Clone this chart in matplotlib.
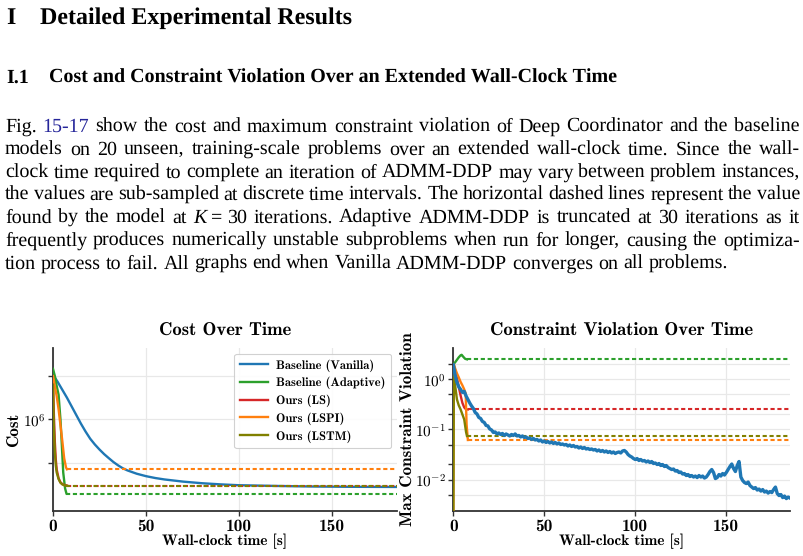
import numpy as np
import matplotlib
matplotlib.use("Agg")
import matplotlib.pyplot as plt
from matplotlib.ticker import LogLocator, NullFormatter, FuncFormatter

# ------------------------------------------------------------------ data
x_ticks = [0, 50, 100, 150]
x_max = 185
names = ["Baseline (Vanilla)", "Baseline (Adaptive)", "Ours (LS)", "Ours (LSPI)", "Ours (LSTM)"]
colors = ["#1f77b4", "#2ca02c", "#d62728", "#ff7f0e", "#808000"]

# Cost over time (log10 of cost)
cost_vanilla_t = [0, 2.5, 5, 7.5, 10, 12.5, 15, 17.5, 20, 22.5, 25, 27.5, 30, 32.5, 35,
                  37.5, 40, 45, 50, 55, 60, 70, 80, 90, 100, 120, 140, 160, 185]
cost_vanilla_log = [6.31, 6.26, 6.205, 6.15, 6.09, 6.03, 5.97, 5.915, 5.865, 5.825, 5.79,
                    5.758, 5.73, 5.703, 5.68, 5.66, 5.645, 5.622, 5.605, 5.592, 5.582,
                    5.567, 5.556, 5.548, 5.542, 5.537, 5.533, 5.531, 5.530]
cost_adaptive_t = [0, 1, 2, 3, 4, 4.6, 5.5, 6.5, 7.2]
cost_adaptive_log = [6.35, 6.30, 6.23, 6.17, 6.00, 5.86, 5.63, 5.52, 5.486]
cost_ls_t = [0, 0.5, 1, 1.5, 2, 3, 4, 5, 6, 7.5]
cost_ls_log = [6.27, 6.02, 5.84, 5.72, 5.65, 5.59, 5.562, 5.55, 5.544, 5.540]
cost_lspi_t = [0, 1, 2, 3, 4, 5, 6, 7, 7.5]
cost_lspi_log = [6.30, 6.23, 6.16, 6.07, 5.96, 5.85, 5.73, 5.665, 5.653]
cost_lstm_t = [0, 0.5, 1, 1.5, 2, 3, 4, 5, 6, 7]
cost_lstm_log = [6.24, 5.93, 5.77, 5.68, 5.63, 5.585, 5.56, 5.548, 5.542, 5.540]
cost_k30_adaptive_log = 5.483
cost_k30_ls_log = 5.540
cost_k30_lspi_log = 5.653
cost_k30_lstm_log = 5.540

# Max constraint violation over time (log10)
viol_vanilla_t = np.arange(0, 186)
viol_vanilla_log = [
    0.29, 0.08, -0.06, -0.15, -0.20, -0.26, -0.24, -0.33, -0.40, -0.47,
    -0.53, -0.58, -0.66, -0.69, -0.76, -0.78, -0.84, -0.86, -0.92, -0.93,
    -0.99, -1.01, -1.06, -1.05, -1.09, -1.07, -1.10, -1.08, -1.12, -1.09,
    -1.11, -1.13, -1.10, -1.12, -1.09, -1.13, -1.12, -1.15, -1.13, -1.16,
    -1.15, -1.18, -1.17, -1.20, -1.18, -1.21, -1.20, -1.23, -1.21, -1.25,
    -1.23, -1.26, -1.24, -1.27, -1.25, -1.28, -1.26, -1.29, -1.27, -1.30,
    -1.29, -1.31, -1.30, -1.33, -1.31, -1.34, -1.32, -1.35, -1.34, -1.37,
    -1.35, -1.38, -1.36, -1.39, -1.38, -1.40, -1.39, -1.41, -1.40, -1.43,
    -1.41, -1.44, -1.42, -1.45, -1.43, -1.46, -1.44, -1.47, -1.45, -1.48,
    -1.46, -1.45, -1.47, -1.43, -1.42, -1.45, -1.50, -1.53, -1.55, -1.58,
    -1.60, -1.58, -1.62, -1.60, -1.63, -1.62, -1.65, -1.63, -1.66, -1.64,
    -1.68, -1.67, -1.70, -1.68, -1.72, -1.70, -1.74, -1.72, -1.76, -1.78,
    -1.80, -1.79, -1.83, -1.82, -1.86, -1.85, -1.89, -1.88, -1.92, -1.90,
    -1.94, -1.92, -1.95, -1.93, -1.96, -1.92, -1.95, -1.93, -1.97, -1.95,
    -1.90, -1.84, -1.80, -1.86, -1.98, -1.96, -1.90, -1.93, -1.88, -1.91,
    -1.86, -1.80, -1.74, -1.69, -1.78, -1.84, -1.72, -1.64, -1.95, -2.02,
    -2.06, -2.08, -2.05, -2.12, -2.15, -2.18, -2.16, -2.21, -2.19, -2.23,
    -2.20, -2.25, -2.23, -2.27, -2.24, -2.26, -2.20, -2.15, -2.28, -2.32,
    -2.30, -2.36, -2.33, -2.38, -2.35, -2.37]
viol_adaptive_t = [0, 1, 2, 3, 4, 4.6, 5.5, 6.5, 7.5]
viol_adaptive_log = [0.30, 0.34, 0.39, 0.44, 0.48, 0.49, 0.45, 0.41, 0.40]
viol_ls_t = [0, 1, 2, 3, 4, 5, 6, 7, 8]
viol_ls_log = [0.30, 0.18, 0.02, -0.15, -0.32, -0.47, -0.56, -0.60, -0.60]
viol_lspi_t = [0, 0.3, 1, 2, 3, 4, 5, 6, 6.8, 7.3, 8]
viol_lspi_log = [-3.0, 0.30, 0.22, 0.12, 0.04, -0.05, -0.12, -0.20, -0.28, -0.90, -1.21]
viol_lstm_t = [0, 0.3, 1, 2, 3, 4, 5, 6, 7, 7.5]
viol_lstm_log = [-3.0, 0.30, -0.12, -0.40, -0.52, -0.60, -0.70, -0.80, -1.05, -1.13]
viol_k30_adaptive_log = 0.40
viol_k30_ls_log = -0.60
viol_k30_lspi_log = -1.21
viol_k30_lstm_log = -1.13

# Page text
heading_num = "I"
heading = "Detailed Experimental Results"
sub_num = "I.1"
sub_heading = "Cost and Constraint Violation Over an Extended Wall-Clock Time"
para_lines = [
    "Fig. 15-17 show the cost and maximum constraint violation of Deep Coordinator and the baseline",
    "models on 20 unseen, training-scale problems over an extended wall-clock time. Since the wall-",
    "clock time required to complete an iteration of ADMM-DDP may vary between problem instances,",
    "the values are sub-sampled at discrete time intervals. The horizontal dashed lines represent the value",
    "found by the model at K=30 iterations. Adaptive ADMM-DDP is truncated at 30 iterations as it",
    "frequently produces numerically unstable subproblems when run for longer, causing the optimiza-",
    "tion process to fail. All graphs end when Vanilla ADMM-DDP converges on all problems.",
]
titles = ["Cost Over Time", "Constraint Violation Over Time"]
ylabels = ["Cost", "Max Constraint Violation"]
xlabel = "Wall-clock time [s]"

# ------------------------------------------------------------------ setup
plt.rcParams["font.family"] = "cmb10"
plt.rcParams["mathtext.fontset"] = "cm"
plt.rcParams["mathtext.default"] = "rm"
plt.rcParams["text.hinting"] = "no_hinting"
plt.rcParams["text.hinting_factor"] = 1

W, H = 804, 556
fig = plt.figure(figsize=(W / 100, H / 100), dpi=100)
renderer = fig.canvas.get_renderer()
SERIF = "Liberation Serif"
LINK = "#26269a"


def fx(x):
    return x / W


def fy(y):
    return 1 - y / H


def measure(s, **kw):
    t = fig.text(0, 0, s, **kw)
    w = t.get_window_extent(renderer).width
    t.remove()
    return w


def fit(s, target, **kw):
    return 10 * target / measure(s, fontsize=10, **kw)


# headings
fs_h = fit(heading, 309, fontfamily=SERIF, fontweight="bold")
fig.text(fx(6), fy(23.5), heading_num, fontfamily=SERIF, fontweight="bold", fontsize=fs_h, va="baseline")
fig.text(fx(40), fy(23.5), heading, fontfamily=SERIF, fontweight="bold", fontsize=fs_h, va="baseline")
fs_s = fit(sub_heading, 564, fontfamily=SERIF, fontweight="bold")
fig.text(fx(6), fy(83), sub_num, fontfamily=SERIF, fontweight="bold", fontsize=fs_s, va="baseline")
fig.text(fx(49), fy(83), sub_heading, fontfamily=SERIF, fontweight="bold", fontsize=fs_s, va="baseline")

# paragraph (justified)
fs_p = fit(para_lines[-1].replace("K=30", "K = 30"), 728, fontfamily=SERIF)
base = dict(fontfamily=SERIF, fontsize=fs_p)
space_w = measure("a a", **base) - measure("aa", **base)


def pieces(word):
    if word == "15-17":
        return [(word, dict(color=LINK), 0)]
    if word == "K=30":
        g = space_w * 0.9
        return [("K", dict(style="italic"), g), ("=", {}, g), ("30", {}, 0)]
    return [(word, {}, 0)]


x_left, x_right = 5, 800
for i, line in enumerate(para_lines):
    y = 131.5 + 22.9 * i
    words = line.split(" ")
    word_pieces = [pieces(w) for w in words]
    widths = [sum(measure(s, **base, **kw) + g for s, kw, g in wp) for wp in word_pieces]
    if i == len(para_lines) - 1:
        gap = space_w
    else:
        gap = (x_right - x_left - sum(widths)) / (len(words) - 1)
    x = x_left
    for wp, wd in zip(word_pieces, widths):
        xx = x
        for s, kw, g in wp:
            fig.text(fx(xx), fy(y), s, va="baseline", ha="left", **base, **kw)
            xx += measure(s, **base, **kw) + g
        x += wd + gap

# ------------------------------------------------------------------ charts
ax1 = fig.add_axes([fx(53), fy(511), (397 - 53) / W, (511 - 348) / H])
ax2 = fig.add_axes([fx(453.3), fy(511), (790 - 453.3) / W, (511 - 348) / H])


def log_label(v, pos):
    e = int(round(np.log10(v)))
    if e < 0:
        return r"$\mathbf{10}^{-\mathbf{%d}}$" % (-e)
    return r"$\mathbf{10}^{\mathbf{%d}}$" % e


SPINE = "#333333"
for ax, title, ylab in ((ax1, titles[0], ylabels[0]), (ax2, titles[1], ylabels[1])):
    ax.set_yscale("log")
    ax.set_xlim(0, x_max)
    ax.set_xticks(x_ticks)
    ax.yaxis.set_major_locator(LogLocator(base=10))
    ax.yaxis.set_major_formatter(FuncFormatter(log_label))
    ax.yaxis.set_minor_locator(LogLocator(base=10, subs=(2, 5)))
    ax.yaxis.set_minor_formatter(NullFormatter())
    ax.grid(True, which="both", color="#e8e8e8", lw=0.9)
    ax.set_axisbelow(True)
    for s in ("top", "right"):
        ax.spines[s].set_visible(False)
    for s in ("left", "bottom"):
        ax.spines[s].set_color(SPINE)
        ax.spines[s].set_linewidth(1.3)
    ax.tick_params(which="both", direction="out", color=SPINE, length=3.5, width=1.0)
    ax.tick_params(axis="x", labelsize=12.5, pad=2)
    ax.tick_params(axis="y", labelsize=11, pad=2)
    ax.set_title(title, fontsize=13.4, y=(511 - 331) / 163, va="center", pad=0)
    ax.set_xlabel(xlabel, fontsize=11, va="center")
    ax.xaxis.set_label_coords(0.5, (511 - 541) / 163)
    ax.set_ylabel(ylab, fontsize=12.3, va="center")

ax1.yaxis.set_label_coords((15 - 53) / 344, 0.5)
ax2.yaxis.set_label_coords((409 - 453.3) / 336.7, 0.5)

ax1.set_ylim(10 ** 5.363, 10 ** 6.495)
ax2.set_ylim(10 ** -2.628, 10 ** 0.626)

LW = 1.7
DASH = (2.0, 1.3)


def p(v):
    return 10 ** np.asarray(v, dtype=float)


# cost
ax1.plot(cost_vanilla_t, p(cost_vanilla_log), color=colors[0], lw=LW, label=names[0], zorder=2)
cost_curves = [(cost_adaptive_t, cost_adaptive_log, cost_k30_adaptive_log, 1),
               (cost_ls_t, cost_ls_log, cost_k30_ls_log, 2),
               (cost_lspi_t, cost_lspi_log, cost_k30_lspi_log, 3),
               (cost_lstm_t, cost_lstm_log, cost_k30_lstm_log, 4)]
for t, v, k, ci in cost_curves:
    ax1.plot(t, p(v), color=colors[ci], lw=LW, label=names[ci], zorder=3)
    ax1.plot([t[-1], x_max], p([k, k]), color=colors[ci], lw=1.5, dashes=DASH, zorder=3)

leg = ax1.legend(loc="upper right", fontsize=9, frameon=True, fancybox=True, framealpha=0.9,
                 edgecolor="#cccccc", handlelength=2.2, borderpad=0.45, labelspacing=0.42,
                 handletextpad=0.7, borderaxespad=0.45)
leg.get_frame().set_linewidth(0.8)

# violation
ax2.plot(viol_vanilla_t, p(viol_vanilla_log), color=colors[0], lw=2.4, zorder=4)
viol_curves = [(viol_adaptive_t, viol_adaptive_log, viol_k30_adaptive_log, 1),
               (viol_ls_t, viol_ls_log, viol_k30_ls_log, 2),
               (viol_lspi_t, viol_lspi_log, viol_k30_lspi_log, 3),
               (viol_lstm_t, viol_lstm_log, viol_k30_lstm_log, 4)]
for t, v, k, ci in viol_curves:
    ax2.plot(t, p(v), color=colors[ci], lw=LW, zorder=3)
    ax2.plot([t[-1], x_max], p([k, k]), color=colors[ci], lw=1.5, dashes=DASH, zorder=3)

fig.savefig("out.png", dpi=100)
